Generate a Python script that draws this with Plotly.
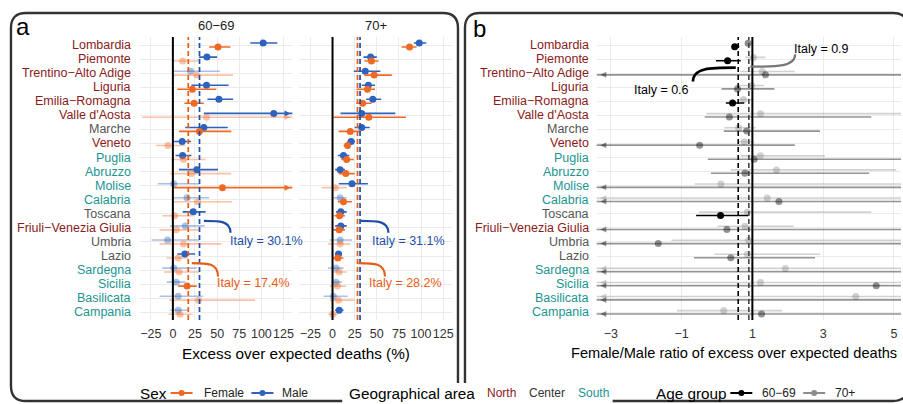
import plotly.graph_objects as go

W, H = 903, 404
def PX(x): return x / W
def PY(y): return 1 - y / H

# ---------------- data ----------------
regions = ["Lombardia", "Piemonte", "Trentino−Alto Adige", "Liguria", "Emilia−Romagna",
           "Valle d'Aosta", "Marche", "Veneto", "Puglia", "Abruzzo", "Molise", "Calabria",
           "Toscana", "Friuli−Venezia Giulia", "Umbria", "Lazio", "Sardegna", "Sicilia",
           "Basilicata", "Campania"]
area = ["North", "North", "North", "North", "North", "North", "Center", "North", "South", "South",
        "South", "South", "Center", "North", "Center", "Center", "South", "South", "South", "South"]

# 60-69, excess (%)
f60 = [51, 11, 27, 22, 24, 38, 30, -5.5, 12, 21, 56, 28, 2, 4, 12, 6, 7, 16, 29, 8]
f60_lo = [41, -1, -1, 5, 13, -35, 7, -19, -2, -3, 1, -1, -12, -15, -15, -7, -10, 6, -4, -5]
f60_hi = [65, 29, 68, 49, 35, 150, 66, 14, 37, 66, 150, 67, 23, 30, 55, 17, 30, 27, 93, 22]
m60 = [102, 38.5, 20, 38, 52, 114, 35, 10.5, 11, 27, 1, 16, 23, 14, -6, 13.5, 1, 4, 6, 6]
m60_lo = [87.5, 29.5, -1, 21, 39, 35, 14, 1.5, 3, 7, -17, -1, 11, -3, -24, 5, -12, -7, -15, -3]
m60_hi = [118, 50, 53, 63, 68, 160, 62, 20.5, 21, 51, 30, 41, 37, 36, 30, 25, 27, 14, 34, 17]
# 70+, excess (%)
f70 = [87, 44, 47, 39.5, 34, 41, 20, 17, 16, 15, 3, 12.4, 8, 7.5, 8.6, 6, 7.5, 5.6, 6.8, 0.4]
f70_lo = [78, 36, 36, 27, 27, 1, 7, 12.5, 10, 7, -12, 6, 2, 1, -5, 0.5, -1, -3, -3, -4.5]
f70_hi = [95, 52, 67, 48, 44, 83, 32, 21, 24, 25, 16, 22, 14, 14, 20, 12.4, 16, 15, 25, 6]
m70 = [98, 43, 37, 40.5, 45.5, 33, 33, 21, 12.4, 8.6, 22, 8.6, 9.4, 9.4, 8.6, 6.8, 4, 4, 1, 7.5]
m70_lo = [92, 35, 24, 33, 38, 9, 25, 17, 6, 3, 7, -1, 4, 3, -3, 3, -5, -1.5, -10, 3]
m70_hi = [106, 50, 54, 48, 55, 71, 42, 25.5, 19, 14, 40, 16, 16, 16, 22, 10.5, 12.4, 10.5, 17, 12.4]
italy_f60, italy_m60, italy_f70, italy_m70 = 17.4, 30.1, 28.2, 31.1

# Female/Male ratio
r60 = [0.5, 0.3, 1.37, 0.58, 0.44, 0.35, 0.84, -0.49, 1.05, 0.79, 30, 1.75, 0.1, 0.28, -1.66,
       0.39, 7, 4.5, 6, 1.26]
r60_lo = [0.42, -0.03, -8, 0.13, 0.25, -0.35, 0.19, -8, -0.26, -0.17, -20, -20, -0.59, -8, -20,
          -0.65, -20, -20, -20, -20]
r60_hi = [0.63, 0.67, 20, 1.62, 0.77, 4.36, 2.91, 2.2, 20, 4.3, 60, 20, 0.88, 20, 20, 2.77, 40,
          20, 40, 20]
r70 = [0.88, 1.03, 1.28, 0.98, 0.75, 1.23, 0.61, 0.77, 1.23, 1.68, 0.11, 1.42, 0.86, 0.79, 0.89,
       0.86, 1.93, 1.23, 3.92, 0.19]
r70_lo = [0.8, 0.8, 0.66, 0.52, 0.58, -0.3, 0.21, 0.58, 0.67, 0.39, -0.63, -8, -0.5, 0.02, -1.29,
          -0.07, -8, -8, -8, -1.13]
r70_hi = [0.95, 1.37, 2.2, 1.33, 1.05, 12, 1.09, 1.05, 3.05, 5.06, 12, 12, 4.36, 2.17, 12, 2.91,
          12, 12, 12, 1.84]
italy_r60, italy_r70 = 0.6, 0.9

pct_ticks = [-25, 0, 25, 50, 75, 100, 125]
ratio_ticks = [-3, -1, 1, 3, 5]

# ---------------- style ----------------
FONT = "Liberation Sans, Arial, sans-serif"
FEM = "#EE6A24"
MAL = "#2E62BC"
FEM_D = "#E85D14"
MAL_D = "#1E4FA6"
AGE60 = "#000000"
AGE70 = "#8c8c8c"
AREA_COL = {"North": "#8B1A1A", "Center": "#555555", "South": "#1C9491"}
GRID = "#EBEBEB"
PCT_RANGE = [-37.5, 135]
RAT_RANGE = [-3.4, 5.2]
ROWS = list(range(len(regions)))
YRANGE = [19.55, -0.57]

def rgba(h, a):
    h = h.lstrip("#")
    return "rgba(%d,%d,%d,%.2f)" % (int(h[0:2], 16), int(h[2:4], 16), int(h[4:6], 16), a)

fig = go.Figure()

def add_series(xa, ya, vals, lo, hi, color, offset, xr, ref, light=0.4, arrow_right=True):
    ys = [i + offset for i in ROWS]
    sig = [(l > ref) or (h < ref) for l, h in zip(lo, hi)]
    for s in (False, True):
        col = color if s else rgba(color, light)
        lx, ly, mx, my = [], [], [], []
        axl, ayl, axr, ayr = [], [], [], []
        for i in ROWS:
            if sig[i] != s:
                continue
            lx += [lo[i], hi[i], None]
            ly += [ys[i], ys[i], None]
            mx.append(vals[i]); my.append(ys[i])
            if lo[i] < xr[0]:
                axl.append(xr[0]); ayl.append(ys[i])
            if hi[i] > xr[1] and arrow_right:
                axr.append(xr[1]); ayr.append(ys[i])
        if not mx:
            continue
        fig.add_trace(go.Scatter(x=lx, y=ly, mode="lines", line=dict(color=col, width=1.6),
                                 xaxis=xa, yaxis=ya, hoverinfo="skip", showlegend=False))
        span = xr[1] - xr[0]
        if axl:
            fig.add_trace(go.Scatter(x=[v + span * 0.012 for v in axl], y=ayl, mode="markers",
                                     marker=dict(symbol="arrow-left", size=6, color=col),
                                     xaxis=xa, yaxis=ya, hoverinfo="skip", showlegend=False,
                                     cliponaxis=False))
        if axr:
            fig.add_trace(go.Scatter(x=[v - span * 0.012 for v in axr], y=ayr, mode="markers",
                                     marker=dict(symbol="arrow-right", size=6, color=col),
                                     xaxis=xa, yaxis=ya, hoverinfo="skip", showlegend=False,
                                     cliponaxis=False))
        fig.add_trace(go.Scatter(x=mx, y=my, mode="markers",
                                 marker=dict(size=7, color=col, line=dict(width=0)),
                                 xaxis=xa, yaxis=ya, hoverinfo="skip", showlegend=False))

D = 0.14
add_series("x", "y", m60, m60_lo, m60_hi, MAL, -D, PCT_RANGE, 0)
add_series("x", "y", f60, f60_lo, f60_hi, FEM, D, PCT_RANGE, 0)
add_series("x2", "y", m70, m70_lo, m70_hi, MAL, -D, PCT_RANGE, 0)
add_series("x2", "y", f70, f70_lo, f70_hi, FEM, D, PCT_RANGE, 0)
DB = 0.12
add_series("x3", "y3", r70, r70_lo, r70_hi, AGE70, -DB, RAT_RANGE, 1, light=0.4, arrow_right=False)
add_series("x3", "y3", r60, r60_lo, r60_hi, AGE60, DB, RAT_RANGE, 1, light=0.42, arrow_right=False)

shapes = []
def vline(xa, x, color, width, dash="solid"):
    shapes.append(dict(type="line", xref=xa, yref="y domain", x0=x, x1=x, y0=0, y1=1,
                       line=dict(color=color, width=width, dash=dash), layer="above"))

DASH = "5px,3px"
vline("x", 0, "black", 2)
vline("x2", 0, "black", 2)
vline("x", italy_f60, FEM_D, 1.7, DASH)
vline("x", italy_m60, MAL_D, 1.7, DASH)
vline("x2", italy_f70, FEM_D, 1.7, DASH)
vline("x2", italy_m70, MAL_D, 1.7, DASH)
vline("x3", 1, "black", 2)
vline("x3", italy_r60, "black", 1.6, DASH)
vline("x3", italy_r70, "#444444", 1.6, DASH)

def curve(xa, ya, x0, y0, x1, y1, color, width):
    c1 = (x0 + (x1 - x0) * 0.6, y0); c2 = (x1, y0)
    path = "M %f,%f C %f,%f %f,%f %f,%f" % (x0, y0, c1[0], c1[1], c2[0], c2[1], x1, y1)
    shapes.append(dict(type="path", xref=xa, yref=ya, path=path,
                       line=dict(color=color, width=width), layer="above"))

curve("x", "y", italy_m60 + 5, 12.5, italy_m60 + 35, 13.35, MAL_D, 2.2)
curve("x", "y", italy_f60 + 4, 15.5, italy_f60 + 33.6, 16.45, FEM_D, 2.2)
curve("x2", "y", italy_m70 + 0.5, 12.5, italy_m70 + 32, 13.35, MAL_D, 2.2)
curve("x2", "y", italy_f70 + 1, 15.5, italy_f70 + 31, 16.45, FEM_D, 2.2)
curve("x3", "y3", italy_r60 - 0.07, 1.61, italy_r60 - 1.28, 2.6, "black", 2.6)
curve("x3", "y3", italy_r70 + 0.04, 1.54, italy_r70 + 1.31, 0.66, "#777777", 2.2)

def rrect(x0, y0, x1, y1, r):
    p = "M %f,%f L %f,%f Q %f,%f %f,%f L %f,%f Q %f,%f %f,%f L %f,%f Q %f,%f %f,%f L %f,%f Q %f,%f %f,%f Z" % (
        PX(x0 + r), PY(y0), PX(x1 - r), PY(y0), PX(x1), PY(y0), PX(x1), PY(y0 + r),
        PX(x1), PY(y1 - r), PX(x1), PY(y1), PX(x1 - r), PY(y1),
        PX(x0 + r), PY(y1), PX(x0), PY(y1), PX(x0), PY(y1 - r),
        PX(x0), PY(y0 + r), PX(x0), PY(y0), PX(x0 + r), PY(y0))
    return dict(type="path", xref="paper", yref="paper", path=p,
                line=dict(color="#333333", width=2.4), layer="above")

shapes.append(rrect(11, 13, 459, 401, 15))
shapes.append(rrect(466, 13, 910, 401, 15))
shapes.append(dict(type="rect", xref="paper", yref="paper", x0=PX(343), x1=PX(614),
                   y0=PY(404), y1=PY(383), fillcolor="white", line=dict(width=0), layer="above"))

def key(xc, color):
    shapes.append(dict(type="line", xref="paper", yref="paper", x0=PX(xc - 11), x1=PX(xc + 11),
                       y0=PY(393), y1=PY(393), line=dict(color=color, width=2), layer="above"))
    shapes.append(dict(type="circle", xref="paper", yref="paper", x0=PX(xc - 3), x1=PX(xc + 3),
                       y0=PY(396), y1=PY(390), fillcolor=color, line=dict(width=0), layer="above"))

key(182, FEM)
key(263, MAL)
key(743, AGE60)
key(816, AGE70)

ann = []
def txt(x, y, s, size=12.5, color="#222222", xanchor="center", xref="paper", yref="paper",
        yanchor="middle"):
    ann.append(dict(x=x, y=y, text=s, xref=xref, yref=yref, showarrow=False,
                    xanchor=xanchor, yanchor=yanchor,
                    font=dict(family=FONT, size=size, color=color)))

for i, (r, a) in enumerate(zip(regions, area)):
    txt(PX(133), i, r, 12.5, AREA_COL[a], "right", "paper", "y")
    txt(PX(592), i, r, 12.5, AREA_COL[a], "right", "paper", "y3")

txt(PX(23), PY(26), "a", 24, "black")
txt(PX(481), PY(29), "b", 24, "black")
txt(PX(216.5), PY(25), "60−69", 13, "#1a1a1a")
txt(PX(376.5), PY(25), "70+", 13, "#1a1a1a")

txt(105.6, 13.9, "Italy = 30.1%", 12.5, MAL_D, "center", "x", "y")
txt(91.5, 16.95, "Italy = 17.4%", 12.5, FEM_D, "center", "x", "y")
txt(86, 13.9, "Italy = 31.1%", 12.5, MAL_D, "center", "x2", "y")
txt(82.5, 16.95, "Italy = 28.2%", 12.5, FEM_D, "center", "x2", "y")
txt(-0.73, 3.19, "Italy = 0.6", 12.5, "black", "right", "x3", "y3")
txt(2.13, 0.28, "Italy = 0.9", 12.5, "black", "left", "x3", "y3")

txt(PX(296.5), PY(353), "Excess over expected deaths (%)", 15.3, "black")
txt(PX(901), PY(353), "Female/Male ratio of excess over expected deaths", 14.6, "black", "right")

txt(PX(138), PY(393), "Sex", 15.3, "black", "left")
txt(PX(202), PY(393), "Female", 12, "#222222", "left")
txt(PX(281), PY(393), "Male", 12, "#222222", "left")
txt(PX(348), PY(393), "Geographical area", 15.3, "black", "left")
txt(PX(486), PY(393), "North", 12, AREA_COL["North"], "left")
txt(PX(528), PY(393), "Center", 12, "#333333", "left")
txt(PX(577), PY(393), "South", 12, AREA_COL["South"], "left")
txt(PX(655), PY(393), "Age group", 15.3, "black", "left")
txt(PX(762), PY(393), "60−69", 12, "#222222", "left")
txt(PX(835), PY(393), "70+", 12, "#222222", "left")

def xax(domain, rng, ticks, anchor):
    return dict(domain=domain, range=rng, anchor=anchor, tickmode="array", tickvals=ticks,
                ticktext=[("−%g" % -t) if t < 0 else "%g" % t for t in ticks],
                showgrid=True, gridcolor=GRID, gridwidth=1.3, zeroline=False, showline=False,
                ticks="", tickangle=0, ticklabelstandoff=4,
                tickfont=dict(family=FONT, size=12.5, color="#333333"), fixedrange=True)

def yax(domain, anchor):
    return dict(domain=domain, range=YRANGE, anchor=anchor, tickmode="array", tickvals=ROWS,
                showticklabels=False, showgrid=True, gridcolor=GRID, gridwidth=1.3,
                zeroline=False, showline=False, ticks="", fixedrange=True)

ydom = [PY(320), PY(37)]
fig.update_layout(
    width=W, height=H, margin=dict(l=0, r=0, t=0, b=0),
    paper_bgcolor="white", plot_bgcolor="white", showlegend=False,
    font=dict(family=FONT),
    xaxis=xax([PX(140), PX(293)], PCT_RANGE, pct_ticks, "y"),
    xaxis2=xax([PX(300), PX(453)], PCT_RANGE, pct_ticks, "y"),
    xaxis3=xax([PX(598), 1.0], RAT_RANGE, ratio_ticks, "y3"),
    yaxis=yax(ydom, "x"),
    yaxis3=yax(ydom, "x3"),
    shapes=shapes, annotations=ann,
)

fig.write_html("out.html", config={"displayModeBar": False},
               post_script="document.body.style.margin='0';document.body.style.padding='0';")
